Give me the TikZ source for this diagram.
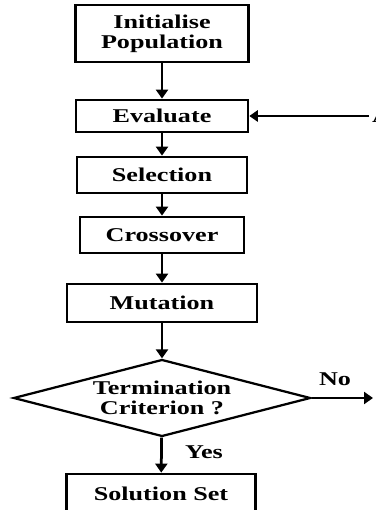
\documentclass[tikz,border=0pt]{standalone}
\usepackage{fontspec}
\setmainfont{Liberation Serif}[FakeStretch=1.34]
\usetikzlibrary{shapes.geometric,arrows.meta,positioning}
\tikzset{
  stage/.style={draw,line width=1.1pt,align=center,font=\bfseries\fontsize{7.8}{7.9}\selectfont,inner sep=1pt},
  test/.style={draw,diamond,aspect=4,line width=0.9pt,align=center,font=\bfseries\fontsize{7.8}{7.9}\selectfont,inner sep=0pt,minimum width=118.8pt,minimum height=30.8pt},
  arr/.style={-{Triangle[length=3.6pt,width=4.8pt]},line width=1.1pt},
  fb/.style={-{Triangle[length=3.4pt,width=4.6pt]},line width=0.6pt},
  lbl/.style={font=\bfseries\fontsize{7.8}{7.9}\selectfont,inner sep=1pt}
}
\begin{document}
\begin{tikzpicture}[x=0.4pt,y=-0.4pt]
\useasboundingbox (0,0) rectangle (375,510);
\node[stage,minimum width=69.2pt,minimum height=22.8pt] (init) at (162,33.5) {Initialise\\Population};
\node[stage,minimum width=68.8pt,minimum height=12.8pt] (eval) at (162,116) {Evaluate};
\node[stage,minimum width=68pt,minimum height=14.4pt] (sel) at (162,175) {Selection};
\node[stage,minimum width=65.6pt,minimum height=14.4pt] (cross) at (162,235) {Crossover};
\node[stage,minimum width=76pt,minimum height=15.2pt] (mut) at (162,303) {Mutation};
\node[test] (term) at (162,398) {Termination\\Criterion ?};
\node[stage,minimum width=75.6pt,minimum height=16pt] (sol) at (161,494) {Solution Set};
\node[lbl,anchor=west] (A) at (369,116) {A};
\coordinate (exit) at (373,398);
\draw[arr] (init) -- (eval);
\draw[arr] (eval) -- (sel);
\draw[arr] (sel) -- (cross);
\draw[arr] (cross) -- (mut);
\draw[arr] (mut) -- (term);
\draw[arr] (term) -- (sol);
\draw[arr] (term.east) -- (exit);
\draw[fb] (A.west) -- (eval.east);
\node[lbl] (yes) at (204,452) {Yes};
\node[lbl] (no) at (335,379) {No};
\end{tikzpicture}
\end{document}
